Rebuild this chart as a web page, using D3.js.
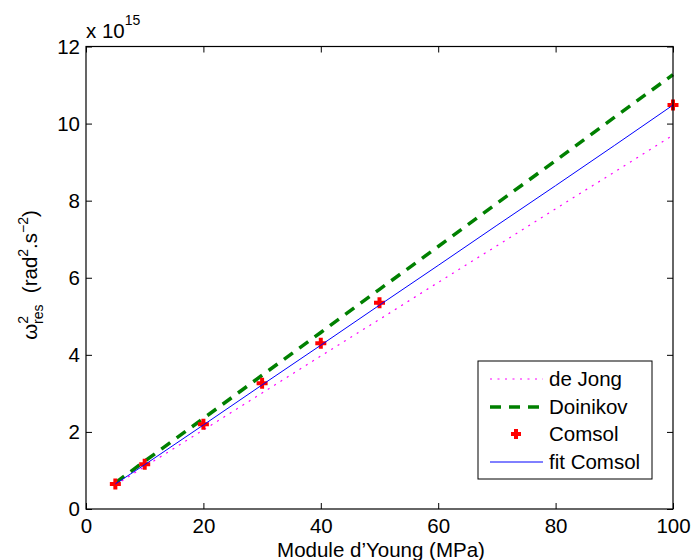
<!DOCTYPE html>
<html><head><meta charset="utf-8">
<script src="https://cdn.jsdelivr.net/npm/d3@7"></script>
<style>body{margin:0;background:#fff}svg{display:block}text{font-family:"Liberation Sans",Arial,sans-serif;fill:#000}</style>
</head><body><div id="c"></div>
<script>
const modulusE = [5, 10, 20, 30, 40, 50, 60, 70, 80, 90, 100];
const deJong = [0.62, 1.10, 2.05, 3.01, 3.97, 4.92, 5.88, 6.83, 7.79, 8.74, 9.70];
const doinikov = [0.68, 1.24, 2.35, 3.47, 4.58, 5.70, 6.81, 7.93, 9.04, 10.16, 11.27];
const fitComsol = [0.65, 1.15, 2.18, 3.22, 4.25, 5.29, 6.32, 7.36, 8.39, 9.43, 10.48];
const comsolE = [5, 10, 20, 30, 40, 50, 100];
const comsol = [0.65, 1.16, 2.20, 3.26, 4.30, 5.35, 10.48];
const xTicks = [0, 20, 40, 60, 80, 100];
const yTicks = [0, 2, 4, 6, 8, 10, 12];
const legendLabels = ["de Jong", "Doinikov", "Comsol", "fit Comsol"];

const W = 691, H = 560;
const L = 86, R = 673, T = 46.5, B = 509;
const svg = d3.select("#c").append("svg").attr("width", W).attr("height", H);
const x = d3.scaleLinear().domain([0, 100]).range([L, R]);
const y = d3.scaleLinear().domain([0, 12]).range([B, T]);

const tl = 6;
const fs = 20.5, ss = 14;
const FF = "Liberation Sans, Arial, sans-serif";
svg.append("g").attr("transform", `translate(0,${B})`)
  .call(d3.axisBottom(x).tickValues(xTicks).tickSize(-tl).tickPadding(9).tickFormat(d3.format("d")))
  .call(g => { g.select(".domain").remove(); g.selectAll("line").attr("stroke","#000");
    g.selectAll("text").attr("font-size", fs).attr("font-family", FF); });
svg.append("g").attr("transform", `translate(0,${T})`)
  .call(d3.axisTop(x).tickValues(xTicks).tickSize(-tl).tickFormat(""))
  .call(g => { g.select(".domain").remove(); g.selectAll("line").attr("stroke","#000"); });
svg.append("g").attr("transform", `translate(${L},0)`)
  .call(d3.axisLeft(y).tickValues(yTicks).tickSize(-tl).tickPadding(6).tickFormat(d3.format("d")))
  .call(g => { g.select(".domain").remove(); g.selectAll("line").attr("stroke","#000");
    g.selectAll("text").attr("font-size", fs).attr("font-family", FF); });
svg.append("g").attr("transform", `translate(${R},0)`)
  .call(d3.axisRight(y).tickValues(yTicks).tickSize(-tl).tickFormat(""))
  .call(g => { g.select(".domain").remove(); g.selectAll("line").attr("stroke","#000"); });

const line = d3.line().x(d => x(d[0])).y(d => y(d[1]));
const zip = (a, b) => a.map((v, i) => [v, b[i]]);
const plot = svg.append("g");

plot.append("path").datum(zip(modulusE, deJong)).attr("d", line)
  .attr("fill","none").attr("stroke","#ff00ff").attr("stroke-width",1.2).attr("stroke-dasharray","2,5.5");
plot.append("path").datum(zip(modulusE, doinikov)).attr("d", line)
  .attr("fill","none").attr("stroke","#008000").attr("stroke-width",3.5).attr("stroke-dasharray","11,8");

const plus = (g, cx, cy, s) => {
  g.append("path").attr("d", `M${cx-s},${cy}H${cx+s}M${cx},${cy-s}V${cy+s}`)
    .attr("stroke","#ff0000").attr("stroke-width",4).attr("fill","none");
};
zip(comsolE, comsol).forEach(d => plus(plot, x(d[0]), y(d[1]), 5.5));

plot.append("path").datum(zip(modulusE, fitComsol)).attr("d", line)
  .attr("fill","none").attr("stroke","#0000ff").attr("stroke-width",1);

svg.append("rect").attr("x",L).attr("y",T).attr("width",R-L).attr("height",B-T)
  .attr("fill","none").attr("stroke","#000").attr("stroke-width",1.2);

// exponent
const ex = svg.append("text").attr("x", 86).attr("y", 38).attr("font-size", fs);
ex.append("tspan").text("x 10");
ex.append("tspan").attr("dy", -13).attr("font-size", ss).text("15");

// x label
svg.append("text").attr("x", 381).attr("y", 557).attr("text-anchor","middle").attr("font-size", fs)
  .text("Module d\u2019Young (MPa)");

// y label
const yl = svg.append("text").attr("transform", `translate(37,275) rotate(-90)`)
  .attr("text-anchor","middle").attr("font-size", fs);
yl.append("tspan").text("\u03c9");
yl.append("tspan").attr("dy", -9).attr("font-size", ss).text("2");
yl.append("tspan").attr("dx", -8).attr("dy", 15).attr("font-size", ss).text("res");
yl.append("tspan").attr("dy", -6).text("\u00a0 (rad");
yl.append("tspan").attr("dy", -9).attr("font-size", ss).text("2");
yl.append("tspan").attr("dy", 9).text(".s");
yl.append("tspan").attr("dy", -9).attr("font-size", ss).text("\u22122");
yl.append("tspan").attr("dy", 9).text(")");

// legend
const lg = svg.append("g");
lg.append("rect").attr("x",478).attr("y",361).attr("width",174).attr("height",118)
  .attr("fill","#fff").attr("stroke","#000").attr("stroke-width",1);
const ly = [379, 407, 434, 462];
lg.append("line").attr("x1",490).attr("x2",543).attr("y1",ly[0]).attr("y2",ly[0])
  .attr("stroke","#ff00ff").attr("stroke-width",1.2).attr("stroke-dasharray","2,5.5");
lg.append("line").attr("x1",490).attr("x2",543).attr("y1",ly[1]).attr("y2",ly[1])
  .attr("stroke","#008000").attr("stroke-width",3.5).attr("stroke-dasharray","11,8");
plus(lg, 516, ly[2], 5);
lg.append("line").attr("x1",490).attr("x2",543).attr("y1",ly[3]).attr("y2",ly[3])
  .attr("stroke","#0000ff").attr("stroke-width",1);
legendLabels.forEach((t, i) => lg.append("text").attr("x",549).attr("y",ly[i]+7).attr("font-size",fs).text(t));
</script></body></html>
